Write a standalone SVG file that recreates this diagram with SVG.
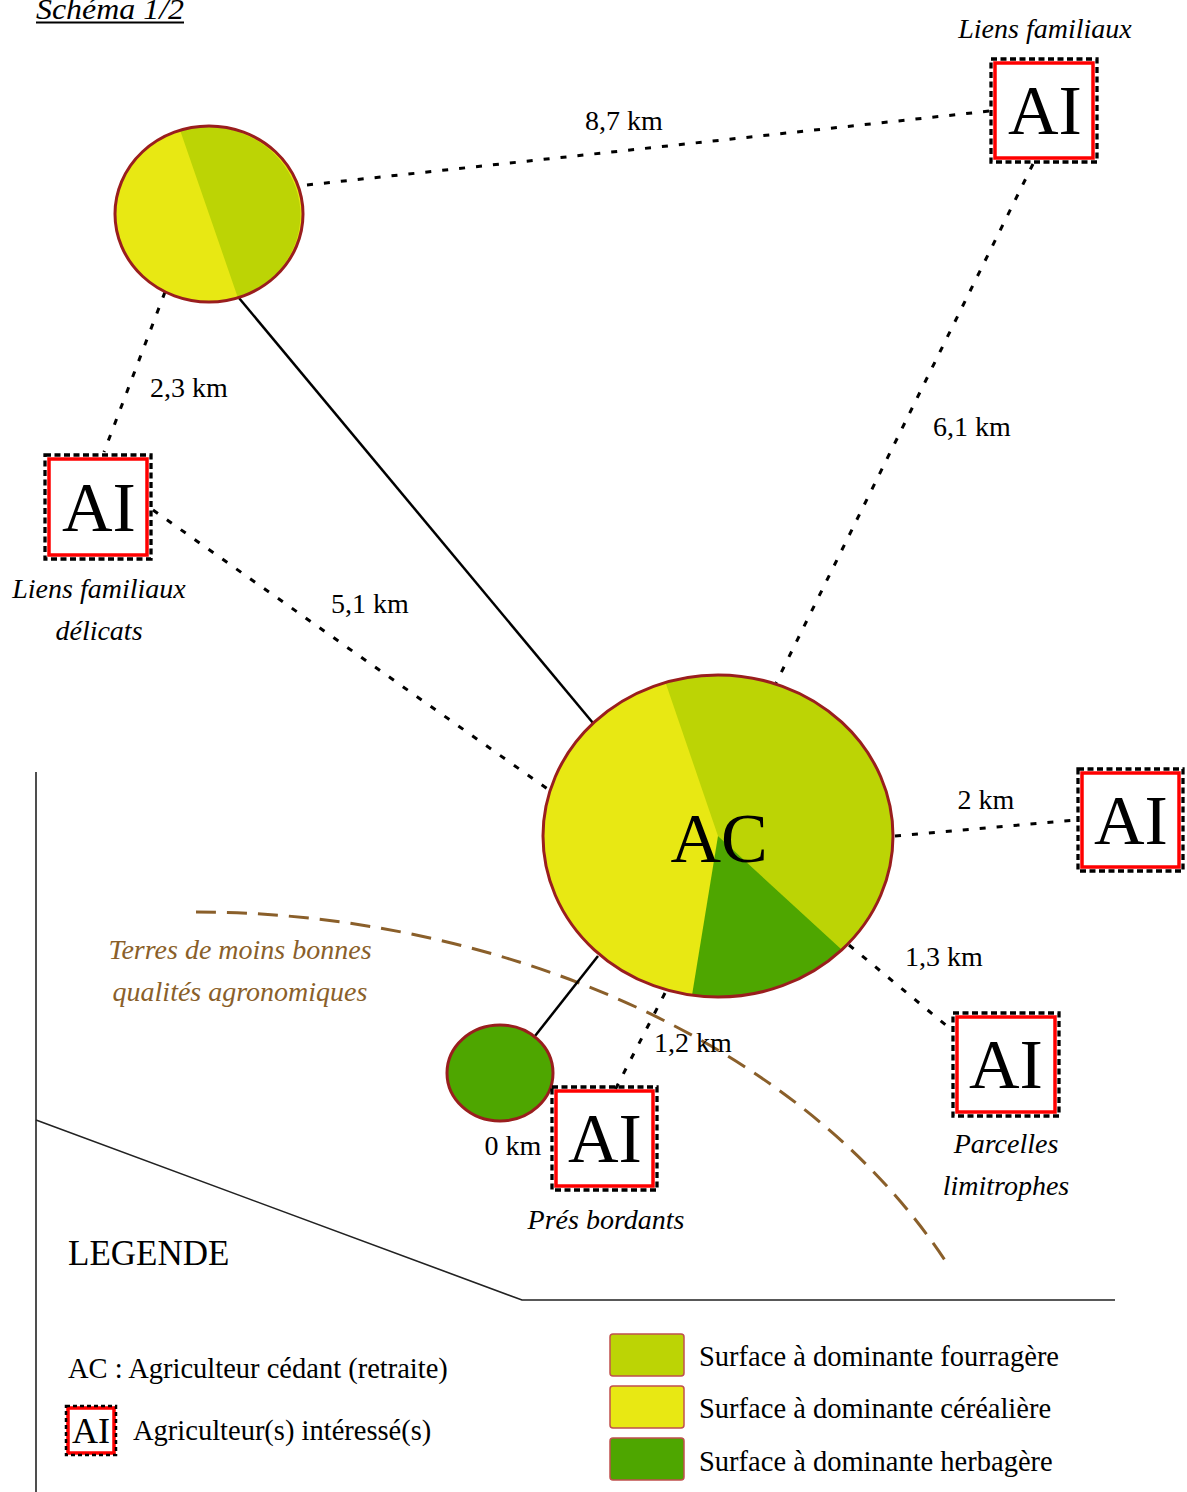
<svg xmlns="http://www.w3.org/2000/svg" width="1187" height="1492" viewBox="0 0 1187 1492">
<style>
text{font-family:"Liberation Serif","Times New Roman",serif;fill:#000}
.it{font-style:italic;font-size:28px}
.km{font-size:28px;text-anchor:middle}
.ai{font-size:70px;text-anchor:middle}
.lbl{text-anchor:middle}
.brown{fill:#8a5f2a}
.red{fill:#fff;stroke:#ff0000;stroke-width:3.5}
.dash{fill:none;stroke:#000;stroke-width:3.3;stroke-dasharray:6 3.5}
.dot{fill:none;stroke:#000;stroke-width:3;stroke-dasharray:6 11}
.solid{fill:none;stroke:#000;stroke-width:2.5}
.outline{fill:none;stroke:#9a1e1e;stroke-width:3}
.cer{fill:#e8e813}
.fou{fill:#bcd405}
.her{fill:#4ea600}
.leg{font-size:28.5px}
.frame{fill:none;stroke:#222;stroke-width:1.6}
</style>

<g id="title">
<text class="it" x="36" y="19" textLength="148" lengthAdjust="spacingAndGlyphs" style="font-size:29px">Schéma 1/2</text>
<line x1="36" y1="22.5" x2="184" y2="22.5" stroke="#000" stroke-width="1.8"/>
</g>

<g id="frame">
<line class="frame" x1="36" y1="772" x2="36" y2="1492"/>
<polyline class="frame" points="36,1120 522,1300 1115,1300"/>
</g>

<g id="soil-limit">
<path d="M196,912 C480,912 797,1030 950,1268" fill="none" stroke="#8a5f2a" stroke-width="3" stroke-dasharray="20 11"/>
<text class="it brown lbl" x="240" y="959">Terres de moins bonnes</text>
<text class="it brown lbl" x="240" y="1001">qualités agronomiques</text>
</g>

<g id="connectors">
<line class="solid" x1="239" y1="298" x2="593" y2="723"/>
<line class="solid" x1="598" y1="956" x2="535" y2="1036"/>
<line class="dot" x1="307" y1="185" x2="990" y2="111"/>
<line class="dot" x1="165" y1="292" x2="104" y2="452"/>
<line class="dot" x1="153" y1="510" x2="549" y2="790"/>
<line class="dot" x1="1033" y1="164" x2="776" y2="683"/>
<line class="dot" x1="895" y1="836" x2="1077" y2="820"/>
<line class="dot" x1="849" y1="945" x2="953" y2="1031"/>
<line class="dot" x1="665" y1="993" x2="615" y2="1090"/>
<text class="km" x="624" y="130">8,7 km</text>
<text class="km" x="189" y="397">2,3 km</text>
<text class="km" x="972" y="436">6,1 km</text>
<text class="km" x="370" y="613">5,1 km</text>
<text class="km" x="986" y="809">2 km</text>
<text class="km" x="944" y="966">1,3 km</text>
<text class="km" x="693" y="1052">1,2 km</text>
<text class="km" x="513" y="1155">0 km</text>
</g>

<g id="farm-small">
<ellipse class="cer" cx="209" cy="214" rx="94" ry="88"/>
<path class="fou" d="M209,214 L180.1,130.3 A94,88 0 0 1 237.9,297.7 Z"/>
<ellipse class="outline" cx="209" cy="214" rx="94" ry="88"/>
</g>

<g id="AC">
<ellipse class="cer" cx="718" cy="836" rx="175" ry="161"/>
<path class="fou" d="M718,836 L665.5,682.4 A175,161 0 0 1 841.9,949.7 Z"/>
<path class="her" d="M718,836 L841.9,949.7 A175,161 0 0 1 692,995.2 Z"/>
<ellipse class="outline" cx="718" cy="836" rx="175" ry="161"/>
<text class="ai" x="719" y="862">AC</text>
</g>

<g id="pasture">
<ellipse class="her" cx="500" cy="1073" rx="53" ry="48"/>
<ellipse class="outline" cx="500" cy="1073" rx="53" ry="48"/>
</g>

<g id="AI-top-right">
<rect class="red" x="995" y="63" width="98" height="95"/>
<rect class="dash" x="991" y="59" width="106" height="103"/>
<text class="ai" x="1045" y="134">AI</text>
<text class="it lbl" x="1045" y="38">Liens familiaux</text>
</g>

<g id="AI-left">
<rect class="red" x="49" y="459" width="98" height="96"/>
<rect class="dash" x="45" y="455" width="106" height="104"/>
<text class="ai" x="99" y="531">AI</text>
<text class="it lbl" x="99" y="598">Liens familiaux</text>
<text class="it lbl" x="99" y="640">délicats</text>
</g>

<g id="AI-right">
<rect class="red" x="1082" y="773" width="97" height="94"/>
<rect class="dash" x="1078" y="769" width="105" height="102"/>
<text class="ai" x="1131" y="844">AI</text>
</g>

<g id="AI-parcelles">
<rect class="red" x="957" y="1017" width="98" height="95"/>
<rect class="dash" x="953" y="1013" width="106" height="103"/>
<text class="ai" x="1006" y="1088">AI</text>
<text class="it lbl" x="1006" y="1153">Parcelles</text>
<text class="it lbl" x="1006" y="1195">limitrophes</text>
</g>

<g id="AI-pres">
<rect class="red" x="556" y="1091" width="97" height="95"/>
<rect class="dash" x="552" y="1087" width="105" height="103"/>
<text class="ai" x="605" y="1162">AI</text>
<text class="it lbl" x="606" y="1229">Prés bordants</text>
</g>

<g id="legend">
<text x="68" y="1265" style="font-size:35px">LEGENDE</text>
<text class="leg" x="68" y="1378">AC : Agriculteur cédant (retraite)</text>
<rect class="red" x="68" y="1408" width="46" height="45" stroke-width="3"/>
<rect class="dash" x="66" y="1406" width="50" height="49" style="stroke-width:2.5;stroke-dasharray:4 3"/>
<text x="91" y="1443" text-anchor="middle" style="font-size:36px">AI</text>
<text class="leg" x="133" y="1440">Agriculteur(s) intéressé(s)</text>
<rect class="fou" x="610" y="1334" width="74" height="42" rx="3" stroke="#c0504d" stroke-width="1.5"/>
<rect class="cer" x="610" y="1386" width="74" height="42" rx="3" stroke="#c0504d" stroke-width="1.5"/>
<rect class="her" x="610" y="1438" width="74" height="42" rx="3" stroke="#c0504d" stroke-width="1.5"/>
<text class="leg" x="699" y="1366">Surface à dominante fourragère</text>
<text class="leg" x="699" y="1418">Surface à dominante céréalière</text>
<text class="leg" x="699" y="1471">Surface à dominante herbagère</text>
</g>
</svg>
